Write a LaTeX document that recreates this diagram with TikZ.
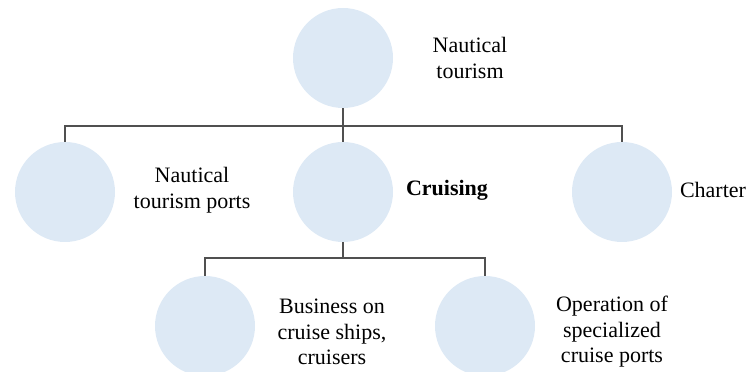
\documentclass[tikz,border=0pt]{standalone}
\usepackage{fontspec}
\setmainfont{Liberation Serif}
\definecolor{bubble}{RGB}{221,233,245}
\definecolor{linegray}{RGB}{80,80,80}
\begin{document}
\begin{tikzpicture}[x=1pt,y=1pt,
  bub/.style={circle,fill=bubble,draw=none,minimum size=100pt,inner sep=0pt},
  lbl/.style={align=center,font=\fontsize{22}{25.5}\selectfont,inner sep=0pt},
  conn/.style={draw=linegray,line width=1.5pt}]
\useasboundingbox (0,0) rectangle (748,372);
\clip (0,0) rectangle (748,372);
\node[bub] (top) at (343,314) {};
\node[lbl] (ttop) at (470,314) {Nautical\\tourism};
\node[bub] (ntp) at (65,180) {};
\node[lbl] (tntp) at (192,182) {Nautical\\tourism ports};
\node[bub] (cru) at (343,180) {};
\node[lbl,font=\fontsize{22}{25.5}\selectfont\bfseries] (tcru) at (447,182) {Cruising};
\node[bub] (cha) at (622,180) {};
\node[lbl] (tcha) at (713,182) {Charter};
\node[bub] (bus) at (205,46) {};
\node[lbl] (tbus) at (332,40) {Business on\\cruise ships,\\cruisers};
\node[bub] (ops) at (485,46) {};
\node[lbl] (tops) at (612,40) {Operation of\\specialized\\cruise ports};
\coordinate (j1) at (343,246);
\coordinate (j2) at (343,114);
\draw[conn] (top.south) -- (cru.north);
\draw[conn] (ntp.north) |- (j1) -| (cha.north);
\draw[conn] (cru.south) -- (j2);
\draw[conn] (bus.north) |- (j2) -| (ops.north);
\end{tikzpicture}
\end{document}
